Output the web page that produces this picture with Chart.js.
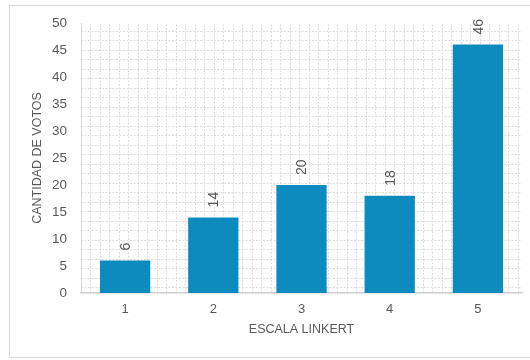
<!DOCTYPE html>
<html>
<head>
<meta charset="utf-8">
<style>
  html, body { margin: 0; padding: 0; background: #ffffff; }
  #wrap { position: relative; width: 530px; height: 360px; }
</style>
<script src="https://cdn.jsdelivr.net/npm/chart.js@4/dist/chart.umd.min.js"></script>
</head>
<body>
<div id="wrap"><canvas id="c" width="530" height="360"></canvas></div>
<script>
const categories = ['1', '2', '3', '4', '5'];
const votes = [6, 14, 20, 18, 46];
const yTicks = [0, 5, 10, 15, 20, 25, 30, 35, 40, 45, 50];
const xTitle = 'ESCALA LINKERT';
const yTitle = 'CANTIDAD DE VOTOS';

const TEXT = '#595959';
const FONT = "'Liberation Sans', Arial, sans-serif";

const framePlugin = {
  id: 'frame',
  beforeDraw(chart) {
    const ctx = chart.ctx;
    ctx.save();
    ctx.strokeStyle = '#d9d9d9';
    ctx.lineWidth = 1;
    ctx.strokeRect(9.5, 5.5, 540, 352);
    // plot area pattern (small dotted grid)
    const a = chart.chartArea;
    ctx.beginPath();
    ctx.rect(a.left, a.top, a.right - a.left, a.bottom - a.top);
    ctx.clip();
    ctx.strokeStyle = '#dcdcdc';
    ctx.setLineDash([2, 1.5]);
    ctx.lineWidth = 1;
    const step = 9.5;
    for (let x = a.left + 9; x < a.right; x += step) {
      const px = Math.round(x) + 0.5;
      ctx.beginPath(); ctx.moveTo(px, a.top - 2); ctx.lineTo(px, a.bottom); ctx.stroke();
    }
    for (let y = a.top + 7.7; y < a.bottom; y += step) {
      const py = Math.round(y) + 0.5;
      ctx.beginPath(); ctx.moveTo(a.left, py); ctx.lineTo(a.right, py); ctx.stroke();
    }
    ctx.restore();
  }
};

const labelPlugin = {
  id: 'vlabels',
  afterDatasetsDraw(chart) {
    const ctx = chart.ctx;
    const meta = chart.getDatasetMeta(0);
    ctx.save();
    ctx.fillStyle = TEXT;
    ctx.font = '14px ' + FONT;
    ctx.textAlign = 'left';
    ctx.textBaseline = 'middle';
    meta.data.forEach((bar, i) => {
      ctx.save();
      ctx.translate(bar.x + 1, bar.y - 10);
      ctx.rotate(-Math.PI / 2);
      ctx.fillText(String(votes[i]), 0, 0);
      ctx.restore();
    });
    ctx.restore();
  }
};

new Chart(document.getElementById('c'), {
  type: 'bar',
  data: {
    labels: categories,
    datasets: [{
      data: votes,
      backgroundColor: '#0e8bbe',
      borderWidth: 0,
      categoryPercentage: 1.0,
      barPercentage: 0.57
    }]
  },
  options: {
    responsive: false,
    animation: false,
    layout: { padding: { left: 0, right: 8, top: 23, bottom: 0 } },
    plugins: { legend: { display: false }, tooltip: { enabled: false } },
    scales: {
      x: {
        grid: { display: false, drawTicks: false },
        border: { display: true, color: '#d0d0d0', width: 1.5 },
        ticks: { color: TEXT, font: { family: FONT, size: 13 }, padding: 9 },
        title: { display: true, text: xTitle, color: TEXT, font: { family: FONT, size: 12.5 }, padding: { top: 0, bottom: 22.8 } },
        afterFit(scale) { scale.height = 67; }
      },
      y: {
        min: 0, max: 50,
        afterBuildTicks(scale) { scale.ticks = yTicks.map(v => ({ value: v })); },
        grid: { display: false, drawTicks: false },
        border: { display: true, color: '#d9d9d9', width: 1 },
        ticks: { color: TEXT, font: { family: FONT, size: 13.5 }, padding: 14 },
        title: { display: true, text: yTitle, color: TEXT, font: { family: FONT, size: 12.5 }, padding: { top: 30.5, bottom: 0 } },
        afterFit(scale) { scale.width = 81; }
      }
    }
  },
  plugins: [framePlugin, labelPlugin]
});
</script>
</body>
</html>
